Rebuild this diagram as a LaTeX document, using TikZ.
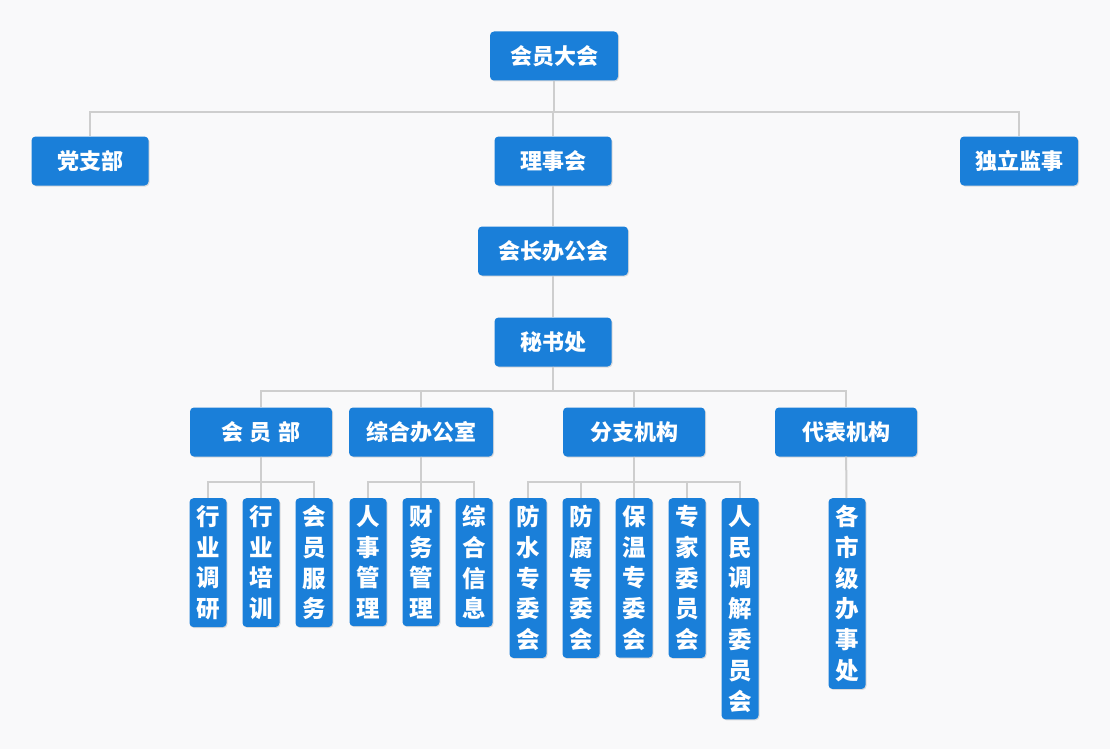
\documentclass[tikz,border=0pt]{standalone}
\usepackage{fontspec}
\setmainfont{Noto Sans CJK SC}
\usetikzlibrary{shadows}

\definecolor{boxblue}{RGB}{26,127,217}
\definecolor{linegray}{RGB}{206,206,206}
\definecolor{bgcol}{RGB}{249,249,250}

\tikzset{
  box/.style={fill=boxblue, text=white, rounded corners=4pt,
    font=\fontsize{22}{26}\selectfont\bfseries,
    minimum height=49pt, minimum width=117pt, inner xsep=20pt,
    drop shadow={shadow xshift=1pt, shadow yshift=-1pt, fill=black, opacity=0.12}},
  dept/.style={box, minimum width=142pt, inner xsep=17pt},
  leaf/.style={box, anchor=north, minimum width=37pt, minimum height=0pt,
    inner xsep=0pt, inner ysep=7pt, align=center,
    font=\fontsize{23.5}{30.8}\selectfont\bfseries},
  link/.style={draw=linegray, line width=2pt},
}

\begin{document}
\begin{tikzpicture}[x=1pt, y=-1pt]
  \fill[bgcol] (0,0) rectangle (1110,749);
  \useasboundingbox (0,0) rectangle (1110,749);

  % top levels
  \node[box] (dh)   at (554,56)  {会员大会};
  \node[box] (dzb)  at (90,161)  {党支部};
  \node[box] (lsh)  at (553,161) {理事会};
  \node[box, inner xsep=15pt] (dljs) at (1019,161) {独立监事};
  \node[box] (hzb)  at (553,251) {会长办公会};
  \node[box] (msc)  at (553,342) {秘书处};

  % departments
  \node[dept] (hyb) at (261,432) {会\hspace{7pt}员\hspace{7pt}部};
  \node[dept] (zhb) at (421,432) {综合办公室};
  \node[dept] (fzj) at (634,432) {分支机构};
  \node[dept] (dbj) at (846,432) {代表机构};

  % leaves
  \node[leaf] (hydy) at (208,498) {行\\业\\调\\研};
  \node[leaf] (hypx) at (261,498) {行\\业\\培\\训};
  \node[leaf] (hyfw) at (314,498) {会\\员\\服\\务};
  \node[leaf] (rsgl) at (368,498) {人\\事\\管\\理};
  \node[leaf] (cwgl) at (421,498) {财\\务\\管\\理};
  \node[leaf] (zhxx) at (474,498) {综\\合\\信\\息};
  \node[leaf] (fs)   at (528,498) {防\\水\\专\\委\\会};
  \node[leaf] (ff)   at (581,498) {防\\腐\\专\\委\\会};
  \node[leaf] (bw)   at (634,498) {保\\温\\专\\委\\会};
  \node[leaf] (zj)   at (687,498) {专\\家\\委\\员\\会};
  \node[leaf] (rmtj) at (740,498) {人\\民\\调\\解\\委\\员\\会};
  \node[leaf] (bsc)  at (847,498) {各\\市\\级\\办\\事\\处};

  \coordinate (b1) at (0,112);
  \coordinate (b2) at (0,391);
  \coordinate (b3) at (0,482);

  \foreach \c in {dzb,lsh,dljs}
    \draw[link] (dh.south) -- (dh.south |- b1) -| (\c.north);
  \draw[link] (lsh) -- (hzb);
  \draw[link] (hzb) -- (msc);
  \foreach \c in {hyb,zhb,fzj,dbj}
    \draw[link] (msc.south) -- (msc.south |- b2) -| (\c.north);
  \foreach \c in {hydy,hypx,hyfw}
    \draw[link] (hyb.south) -- (hyb.south |- b3) -| (\c.north);
  \foreach \c in {rsgl,cwgl,zhxx}
    \draw[link] (zhb.south) -- (zhb.south |- b3) -| (\c.north);
  \foreach \c in {fs,ff,bw,zj,rmtj}
    \draw[link] (fzj.south) -- (fzj.south |- b3) -| (\c.north);
  \draw[link] (dbj) -- (bsc);
\end{tikzpicture}
\end{document}
